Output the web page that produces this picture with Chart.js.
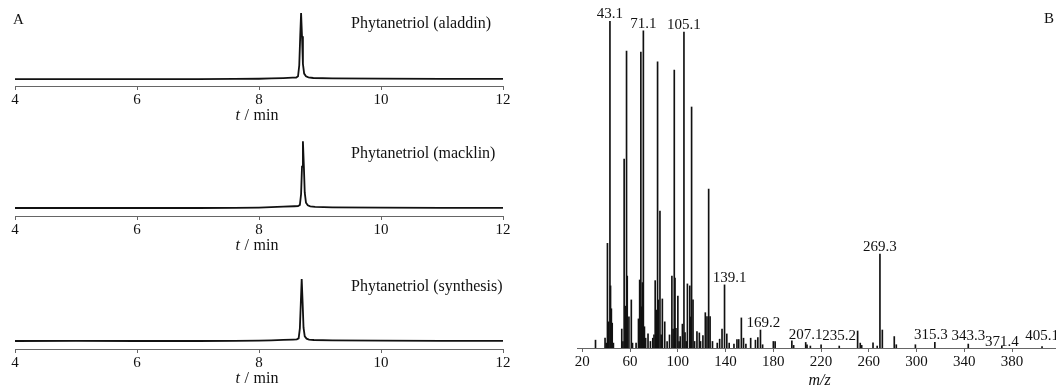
<!DOCTYPE html>
<html>
<head>
<meta charset="utf-8">
<script src="https://cdn.jsdelivr.net/npm/chart.js@4.4.1/dist/chart.umd.min.js"></script>
<style>
  html, body { margin: 0; padding: 0; background: #fff; overflow: hidden; }
  body { width: 1056px; height: 386px; position: relative; }
  .box { position: absolute; }
</style>
</head>
<body>
<div class="box" style="left:0;top:0;width:520px;height:124px"><canvas id="gcAladdin"></canvas></div>
<div class="box" style="left:0;top:130px;width:520px;height:124px"><canvas id="gcMacklin"></canvas></div>
<div class="box" style="left:0;top:263px;width:520px;height:124px"><canvas id="gcSynthesis"></canvas></div>
<div class="box" style="left:560px;top:0;width:496px;height:386px"><canvas id="msChart"></canvas></div>
<script>
/* ---------- données ---------- */
// A : chromatogrammes (t en min, réponse relative)
const gcTicks = [4, 6, 8, 10, 12];

const aladdinTime = [4, 5, 6, 7, 7.6, 8.0, 8.2, 8.4, 8.55, 8.61, 8.64, 8.66, 8.675, 8.69, 8.705, 8.72, 8.74, 8.77, 8.81, 8.89, 9.2, 10, 11, 12];
const aladdinSignal = [0, 0, 0, 0, 0.2, 0.5, 1.0, 1.5, 2.0, 2.2, 4, 20, 60, 95.5, 62, 22, 8, 4, 2.5, 1.6, 1.0, 0.6, 0.4, 0.3];

const macklinTime = [4, 5, 6, 7, 7.6, 8.0, 8.2, 8.4, 8.58, 8.64, 8.67, 8.69, 8.705, 8.72, 8.735, 8.75, 8.77, 8.80, 8.84, 8.92, 9.2, 10, 11, 12];
const macklinSignal = [0, 0, 0, 0, 0.2, 0.6, 1.2, 2.0, 2.6, 2.8, 4.5, 21, 62, 100, 64, 23, 8, 4, 2.5, 1.6, 1.0, 0.5, 0.3, 0.2];

const synthesisTime = [4, 5, 6, 7, 7.6, 8.0, 8.2, 8.4, 8.56, 8.62, 8.65, 8.67, 8.685, 8.70, 8.715, 8.73, 8.75, 8.78, 8.82, 8.90, 9.2, 10, 11, 12];
const synthesisSignal = [0, 0.2, 0, 0, 0.2, 0.5, 1.0, 1.6, 2.2, 2.4, 4, 19, 56, 93, 58, 20, 7, 3.5, 2.2, 1.5, 0.9, 0.5, 0.3, 0.2];

// B : spectre de masse (m/z, intensité relative %)
const msMz = [31, 39, 40, 41, 42, 43.1, 43.6, 44.3, 45, 46,
  53, 54, 55, 56, 57, 57.6, 59, 61, 62, 65,
  67, 68, 69, 69.6, 70.3, 71.1, 72, 73, 75, 77,
  79, 80, 81, 82, 83, 83.6, 85, 86, 87, 89,
  91, 93, 95, 96, 97, 97.6, 98.4, 100, 101, 102,
  103.8, 105.1, 106, 107, 108, 110, 110.7, 111.5, 112.7, 114,
  116, 118, 119, 121, 123, 124.4, 125.8, 127, 129, 133,
  135, 137, 139.1, 141, 143, 147, 149.5, 151, 153.2, 155,
  157, 161, 165, 167, 169.2, 171, 180, 181.5, 195.5, 197,
  207.1, 208.2, 211, 220, 235.2, 250.6, 252.8, 254, 263.5, 267,
  269.3, 271.3, 281.3, 283, 299, 315.3, 343.3, 371.4, 405.1];
const msIntensity = [2.4, 3.0, 1.5, 32, 8, 100, 19, 12, 7.6, 1.5,
  5.8, 2, 57.8, 12.8, 90.8, 22, 9.5, 14.7, 1.5, 1.5,
  8.9, 20.8, 90.5, 12.6, 20, 97, 6.5, 3, 4.3, 2,
  3, 4, 20.6, 11.6, 87.5, 14.7, 41.9, 4, 15, 8,
  2, 4, 22, 5.8, 85, 21.4, 6, 15.9, 2, 3.5,
  7.3, 96.6, 4.7, 2, 19.6, 19, 9.5, 73.7, 14.7, 2,
  5, 4.6, 2, 3.8, 10.8, 9.6, 48.6, 9.6, 2, 1.5,
  2.7, 5.8, 19.3, 4.3, 1.5, 1.2, 2.6, 2.6, 9.2, 3,
  1.2, 3, 2.4, 3.2, 5.5, 1, 2, 2, 2.2, 0.8,
  1.7, 1.0, 0.6, 1, 0.6, 5.2, 1.5, 0.8, 1.6, 0.6,
  28.7, 5.5, 3.5, 1, 1, 1.7, 1.2, 0.6, 0.4];
const msLabels = [43.1, 71.1, 105.1, 139.1, 169.2, 207.1, 235.2, 269.3, 315.3, 343.3, 371.4, 405.1];
const msTicks = [20, 60, 100, 140, 180, 220, 260, 300, 340, 380];

/* ---------- style commun ---------- */
const SERIF = '"Liberation Serif", "DejaVu Serif", serif';
const AXIS = '#666';
const INK = '#111';
// petits décalages des étiquettes de pics (px), comme dans la figure
const LABEL_NUDGE = { 139.1: [5, 0], 169.2: [3, 0], 315.3: [-4, 0], 371.4: [0, 6] };

function xAxis(min, max, ticks, height) {
  return {
    type: 'linear', min, max, offset: false,
    afterBuildTicks: s => { s.ticks = ticks.map(v => ({ value: v })); },
    afterFit: s => { s.height = height; },
    grid: { drawOnChartArea: false, drawTicks: true, tickLength: 4, color: AXIS, offset: false },
    border: { display: true, color: AXIS, width: 1 },
    ticks: { color: INK, font: { family: SERIF, size: 15 }, padding: 1, maxRotation: 0, autoSkip: false }
  };
}

/* ---------- A : texte (nom, lettre, titre d'axe) ---------- */
function gcText(name, letter) {
  return {
    id: 'gcText',
    afterDraw(chart) {
      const { ctx, chartArea: a } = chart;
      ctx.save();
      ctx.fillStyle = INK;
      ctx.textBaseline = 'middle';
      ctx.textAlign = 'left';
      ctx.font = `16px ${SERIF}`;
      ctx.fillText(name, 351, a.bottom - 62);
      ctx.font = `15px ${SERIF}`;
      if (letter) ctx.fillText(letter, 13, 20);

      // « t / min » avec t en italique
      ctx.font = `16px ${SERIF}`;
      const wSl = ctx.measureText('/').width, wMin = ctx.measureText('min').width;
      ctx.font = `italic 16px ${SERIF}`;
      const wT = ctx.measureText('t').width;
      const gap = 4.5;
      let x = (a.left + a.right) / 2 - 2 - (wT + gap + wSl + gap + wMin) / 2;
      const y = a.bottom + 30;
      ctx.fillText('t', x, y); x += wT + gap;
      ctx.font = `16px ${SERIF}`;
      ctx.fillText('/', x, y); x += wSl + gap;
      ctx.fillText('min', x, y);
      ctx.restore();
    }
  };
}

function plotGC(id, time, signal, yMin, yMax, name, letter) {
  new Chart(document.getElementById(id), {
    type: 'line',
    data: {
      datasets: [{
        data: time.map((t, i) => ({ x: t, y: signal[i] })),
        borderColor: INK, borderWidth: 1.8, pointRadius: 0, tension: 0, fill: false
      }]
    },
    options: {
      animation: false, responsive: true, maintainAspectRatio: false,
      layout: { padding: { top: 10, left: 15, right: 17, bottom: 0 } },
      plugins: { legend: { display: false }, tooltip: { enabled: false } },
      scales: {
        x: xAxis(4, 12, gcTicks, 38),
        y: { display: false, min: yMin, max: yMax }
      }
    },
    plugins: [gcText(name, letter)]
  });
}

plotGC('gcAladdin', aladdinTime, aladdinSignal, -10, 100, 'Phytanetriol (aladdin)', 'A');
plotGC('gcMacklin', macklinTime, macklinSignal, -12, 102, 'Phytanetriol (macklin)');
plotGC('gcSynthesis', synthesisTime, synthesisSignal, -12, 102, 'Phytanetriol (synthesis)');

/* ---------- B : spectre de masse ---------- */
const msText = {
  id: 'msText',
  afterDraw(chart) {
    const { ctx, chartArea: a, scales: { x, y } } = chart;
    ctx.save();
    ctx.fillStyle = INK;
    ctx.font = `15px ${SERIF}`;
    ctx.textAlign = 'center';
    ctx.textBaseline = 'alphabetic';
    msLabels.forEach(m => {
      const i = msMz.indexOf(m);
      const top = y.getPixelForValue(msIntensity[i]);
      const [dx, dy] = LABEL_NUDGE[m] || [0, 0];
      ctx.fillText(m.toFixed(1), x.getPixelForValue(m) + dx, Math.min(top - 3, a.bottom - 8) + dy);
    });
    ctx.textBaseline = 'middle';
    ctx.font = `italic 16px ${SERIF}`;
    ctx.fillText('m/z', (a.left + a.right) / 2 + 3, a.bottom + 33);
    ctx.font = `15px ${SERIF}`;
    ctx.textAlign = 'right';
    ctx.fillText('B', chart.width - 2, 19);
    ctx.restore();
  }
};

new Chart(document.getElementById('msChart'), {
  type: 'bar',
  data: {
    datasets: [{
      data: msMz.map((m, i) => ({ x: m, y: msIntensity[i] })),
      backgroundColor: INK, borderWidth: 0, barThickness: 1
    }]
  },
  options: {
    animation: false, responsive: true, maintainAspectRatio: false,
    layout: { padding: { top: 21, left: 17, right: 0, bottom: 0 } },
    plugins: { legend: { display: false }, tooltip: { enabled: false } },
    scales: {
      x: xAxis(15.5, 416.8, msTicks, 38),
      y: { display: false, min: 0, max: 100 }
    }
  },
  plugins: [msText]
});
</script>
</body>
</html>
